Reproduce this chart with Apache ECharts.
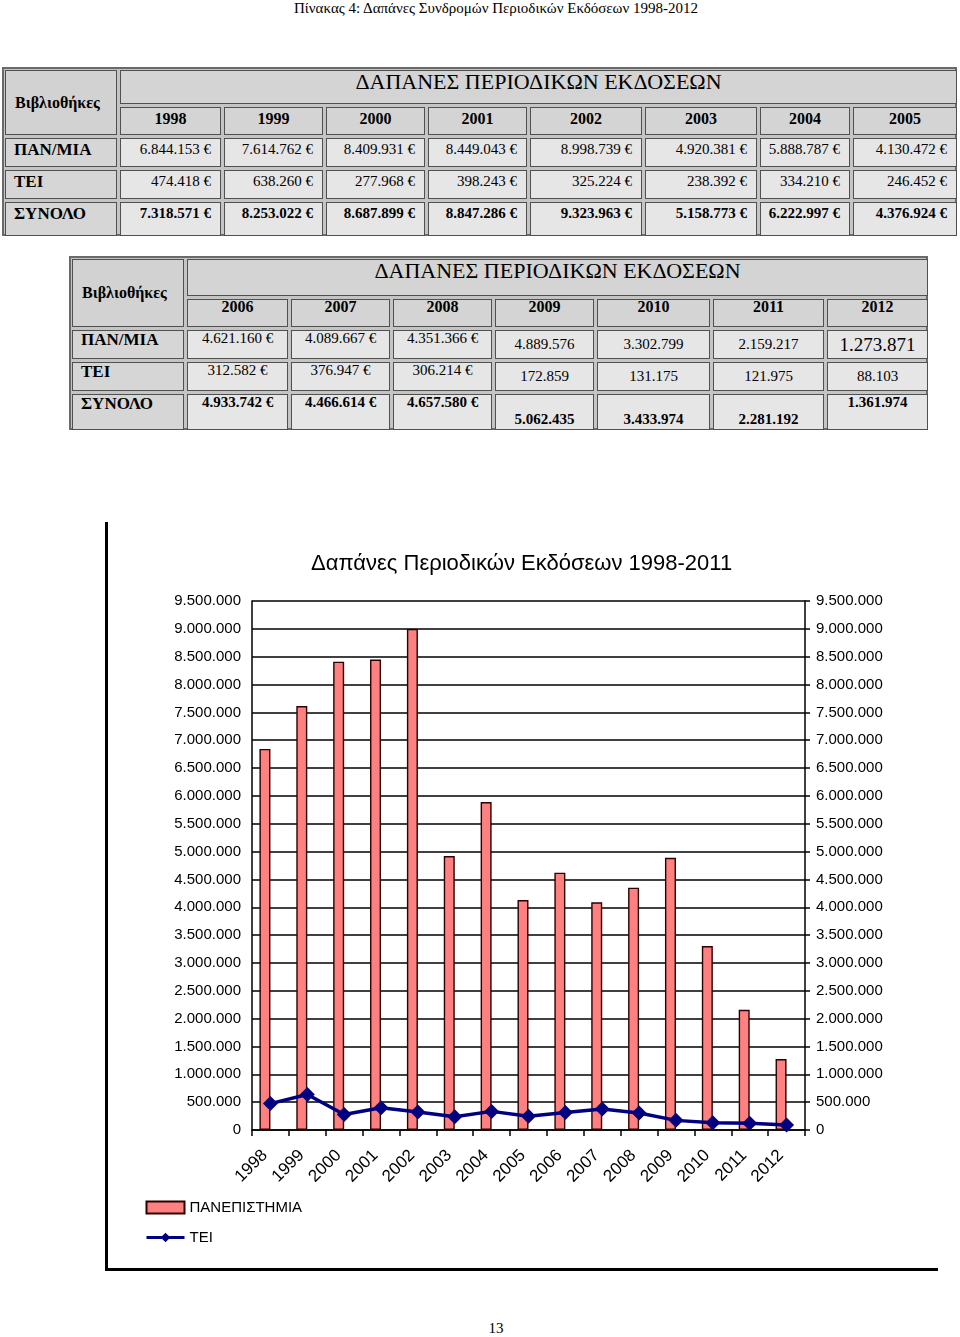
<!DOCTYPE html>
<html>
<head>
<meta charset="utf-8">
<script src="https://cdn.jsdelivr.net/npm/echarts@6/dist/echarts.min.js"></script>
<style>
  html,body{margin:0;padding:0;background:#fff;}
  body{width:960px;height:1337px;position:relative;overflow:hidden;font-family:"Liberation Serif","Times New Roman",serif;color:#000;}
  .abs{position:absolute;}
  .tbl{position:absolute;background:#c4c4c4;border:2px solid #6a6a6a;box-sizing:border-box;}
  .cell{position:absolute;box-sizing:border-box;border:1px solid #505050;overflow:hidden;white-space:nowrap;line-height:20px;}
  #chart{position:absolute;left:0;top:500px;width:960px;height:790px;}
  #frame{position:absolute;left:105px;top:522px;width:833px;height:749px;border-left:3px solid #000;border-bottom:3px solid #000;box-sizing:border-box;}
</style>
</head>
<body>
<div class="abs" id="pageTitle" style="left:0;width:992px;top:0;text-align:center;font-size:15px;line-height:17px;"></div>
<div id="t1"></div>
<div id="t2"></div>
<div id="frame"></div>
<div id="chart"></div>
<div class="abs" id="pageNum" style="left:0;width:992px;top:1320px;text-align:center;font-size:15px;line-height:17px;"></div>
<script>
// ---------- DATA ----------
const pageTitle = 'Πίνακας 4: Δαπάνες Συνδρομών Περιοδικών Εκδόσεων 1998-2012';
const pageNumber = '13';
const tableTitle = 'ΔΑΠΑΝΕΣ ΠΕΡΙΟΔΙΚΩΝ ΕΚΔΟΣΕΩΝ';
const headerLabel = 'Βιβλιοθήκες';
const rowLabels = ['ΠΑΝ/ΜΙΑ', 'ΤΕΙ', 'ΣΥΝΟΛΟ'];
const years = ['1998','1999','2000','2001','2002','2003','2004','2005','2006','2007','2008','2009','2010','2011','2012'];
const panValues = [6844153, 7614762, 8409931, 8449043, 8998739, 4920381, 5888787, 4130472, 4621160, 4089667, 4351366, 4889576, 3302799, 2159217, 1273871];
const teiValues = [474418, 638260, 277968, 398243, 325224, 238392, 334210, 246452, 312582, 376947, 306214, 172859, 131175, 121975, 88103];
const totalValues = [7318571, 8253022, 8687899, 8847286, 9323963, 5158773, 6222997, 4376924, 4933742, 4466614, 4657580, 5062435, 3433974, 2281192, 1361974];
const chartTitle = 'Δαπάνες Περιοδικών Εκδόσεων 1998-2011';
const seriesNames = ['ΠΑΝΕΠΙΣΤΗΜΙΑ', 'ΤΕΙ'];
const yMin = 0, yMax = 9500000, yStep = 500000;

// ---------- HELPERS ----------
const fmt = v => String(v).replace(/\B(?=(\d{3})+(?!\d))/g, '.');
document.getElementById('pageTitle').textContent = pageTitle;
document.getElementById('pageNum').textContent = pageNumber;

function makeTable(host, colEdges, rowEdges, yearSlice, firstIdx, cellStyleFn) {
  const L = colEdges[0], T = rowEdges[0];
  const W = colEdges[colEdges.length-1] - L, H = rowEdges[rowEdges.length-1] - T;
  const tbl = document.createElement('div');
  tbl.className = 'tbl';
  Object.assign(tbl.style, {left: L+'px', top: T+'px', width: W+'px', height: H+'px'});
  host.appendChild(tbl);
  function cell(c0, c1, r0, r1, text, st) {
    const d = document.createElement('div');
    d.className = 'cell';
    const x = colEdges[c0] - L, y = rowEdges[r0] - T;
    const w = colEdges[c1] - colEdges[c0], h = rowEdges[r1] - rowEdges[r0];
    Object.assign(d.style, {left: (x+1)+'px', top: (y+1)+'px', width: (w-3)+'px', height: (h-3)+'px'});
    Object.assign(d.style, st || {});
    d.textContent = text;
    tbl.appendChild(d);
    return d;
  }
  const nCols = colEdges.length - 1;
  cell(0, 1, 0, 2, headerLabel, {background:'#d2d2d2', fontWeight:'bold', fontSize:'16px', display:'flex', alignItems:'center', paddingLeft:'9px'});
  cell(1, nCols, 0, 1, tableTitle, cellStyleFn('title'));
  yearSlice.forEach((yr, i) => cell(i+1, i+2, 1, 2, yr, cellStyleFn('year', i)));
  const rows = [panValues, teiValues, totalValues];
  rows.forEach((arr, r) => {
    cell(0, 1, r+2, r+3, rowLabels[r], Object.assign({background:'#d6d6d6', fontWeight:'bold', fontSize:'17px', paddingLeft:'8px'}, cellStyleFn('label', 0, r)));
    yearSlice.forEach((yr, i) => {
      const v = arr[firstIdx + i];
      const s = cellStyleFn('val', i, r);
      cell(i+1, i+2, r+2, r+3, s.text(v), s.style);
    });
  });
}

// Table 1 (1998-2005)
makeTable(document.getElementById('t1'),
  [2,117,221,323,425,527,642,757,850,957],
  [67,104,135,167,199,236],
  years.slice(0,8), 0,
  (kind, i, r) => {
    if (kind === 'title') return {background:'#d4d4d4', fontSize:'22px', textAlign:'center', paddingTop:'1px'};
    if (kind === 'year') return {background:'#d4d4d4', fontWeight:'bold', fontSize:'16px', textAlign:'center', paddingTop:'1px'};
    if (kind === 'label') return {paddingTop:'1px'};
    return {text: v => fmt(v) + ' €', style: {background:'#e6e6e6', fontSize:'15px', textAlign:'right', paddingRight:'9px', paddingTop:'0px', fontWeight: r === 2 ? 'bold' : 'normal'}};
  });

// Table 2 (2006-2012)
makeTable(document.getElementById('t2'),
  [69,184,288,390,492,594,710,824,928],
  [256,296,327,359,391,430],
  years.slice(8), 8,
  (kind, i, r) => {
    if (kind === 'title') return {background:'#d4d4d4', fontSize:'22px', textAlign:'center', paddingTop:'1px'};
    if (kind === 'year') return {background:'#d4d4d4', fontWeight:'bold', fontSize:'16px', textAlign:'center', paddingTop:'0px', lineHeight:'14px'};
    if (kind === 'label') return {paddingTop:'0px', lineHeight:'18px'};
    const st = {background:'#e6e6e6', fontSize:'15px', textAlign:'center', fontWeight: r === 2 ? 'bold' : 'normal'};
    let text = v => fmt(v);
    if (i < 3) { text = v => fmt(v) + ' €'; st.paddingTop = '0px'; st.lineHeight = '14px'; }
    else if (i === 6) {
      if (r === 0) { st.fontSize = '19px'; st.paddingTop = '4px'; }
      else if (r === 1) { st.paddingTop = '3px'; }
      else { st.paddingTop = '0px'; st.lineHeight = '14px'; }
    } else {
      if (r === 2) { st.paddingTop = '14px'; }
      else { st.paddingTop = '3px'; }
    }
    return {text, style: st};
  });

// ---------- CHART ----------
const chart = echarts.init(document.getElementById('chart'), null, {renderer:'canvas'});
const axisColor = '#000';
const FONT = '"Liberation Sans", Arial, sans-serif';
const yLabel = {formatter: fmt, fontSize: 15, color: '#000', margin: 11, fontFamily: FONT};
chart.setOption({
  animation: false,
  backgroundColor: 'transparent',
  textStyle: {fontFamily: FONT},
  title: {text: chartTitle, left: 306, top: 48, textStyle: {fontSize: 22, fontWeight: 'normal', color: '#000', fontFamily: FONT}},
  grid: {left: 252, right: 155, top: 101, bottom: 160, containLabel: false},
  legend: {
    orient: 'vertical', left: 140, top: 695, itemWidth: 38, itemHeight: 12, itemGap: 15,
    data: [{name: seriesNames[0], icon: 'rect'}, {name: seriesNames[1], lineStyle: {width: 3, color: '#000080'}}],
    textStyle: {fontSize: 15, color: '#000', fontFamily: FONT}
  },
  xAxis: {
    type: 'category', data: years, boundaryGap: true,
    axisLine: {lineStyle: {color: axisColor, width: 1.5}},
    axisTick: {show: true, interval: 0, length: 6, lineStyle: {color: axisColor, width: 1.5}},
    axisLabel: {rotate: 45, interval: 0, fontSize: 17, color: '#000', margin: 17, padding: [0, 8, 0, 0], fontFamily: FONT}
  },
  yAxis: [
    {type: 'value', position: 'left', min: yMin, max: yMax, interval: yStep,
     axisLine: {show: true, lineStyle: {color: axisColor, width: 1.5}},
     axisTick: {show: false}, axisLabel: yLabel,
     splitLine: {show: true, lineStyle: {color: axisColor, width: 1.5}}},
    {type: 'value', position: 'right', min: yMin, max: yMax, interval: yStep,
     axisLine: {show: true, lineStyle: {color: axisColor, width: 1.5}},
     axisTick: {show: true, length: 5, lineStyle: {color: axisColor, width: 1.5}}, axisLabel: yLabel,
     splitLine: {show: false}}
  ],
  series: [
    {name: seriesNames[0], type: 'bar', data: panValues, barWidth: 11, barGap: '0%',
     itemStyle: {color: '#ff8080', borderColor: '#2a0000', borderWidth: 1.4}},
    {name: 'spacer', type: 'bar', data: [], barWidth: 11, barGap: '0%'},
    {name: seriesNames[1], type: 'line', data: teiValues, symbol: 'diamond', symbolSize: 15, z: 5,
     lineStyle: {color: '#000080', width: 3.5}, itemStyle: {color: '#000080'}}
  ]
});
</script>
</body>
</html>
